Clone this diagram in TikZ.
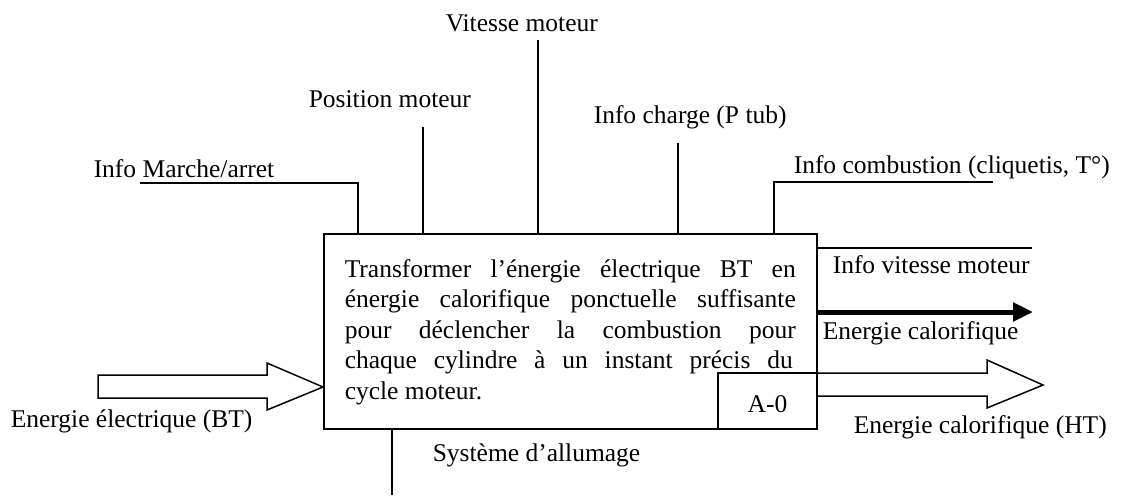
\documentclass[tikz,border=0pt]{standalone}
\usepackage{fontspec}
\setmainfont{Liberation Serif}
\usetikzlibrary{arrows.meta}
\begin{document}
\begin{tikzpicture}[x=1pt,y=-1pt,line width=1.5pt,
  lbl/.style={anchor=base west,inner sep=0pt,font=\fontsize{25.5}{29}\selectfont},
  boxstyle/.style={draw,inner sep=0pt,line width=1.5pt},
  hollow/.style={draw,line width=1.5pt,line join=miter,fill=white},
  thickarrow/.style={line width=5pt,-{Triangle[length=20pt,width=18pt]}}]
\fill[white] (0,0) rectangle (1126,495);
\useasboundingbox (0,0) rectangle (1126,495);

% main box
\node[boxstyle,minimum width=493pt,minimum height=195pt] (box) at (570.5,331.5) {};
\node[lbl] (t1) at (344,277) {\makebox[451pt][s]{Transformer l’énergie électrique BT en}};
\node[lbl] (t2) at (344,307.5) {\makebox[451pt][s]{énergie calorifique ponctuelle suffisante}};
\node[lbl] (t3) at (344,338) {\makebox[451pt][s]{pour déclencher la combustion pour}};
\node[lbl] (t4) at (344,368.5) {\makebox[448pt][s]{chaque cylindre à un instant précis du}};
\node[lbl] (t5) at (344,399) {cycle moteur.};

% A-0 box
\node[boxstyle,minimum width=99pt,minimum height=56pt] (a0) at (767.5,401) {};
\node[lbl,anchor=base] (a0t) at (767.5,412) {A-0};

% labels
\node[lbl] (vit) at (445,32) {Vitesse moteur};
\node[lbl] (pos) at (308,107) {Position moteur};
\node[lbl] (chg) at (593,123) {Info charge (P tub)};
\node[lbl] (mar) at (93,177) {Info Marche/arret};
\node[lbl] (cmb) at (793,173) {Info combustion (cliquetis, T°)};
\node[lbl] (ivm) at (832,273) {Info vitesse moteur};
\node[lbl] (ecal) at (822,339) {Energie calorifique};
\node[lbl] (ebt) at (10,427) {Energie électrique (BT)};
\node[lbl] (eht) at (853,433) {Energie calorifique (HT)};
\node[lbl] (sys) at (432,461) {Système d’allumage};

% control lines
\coordinate (m0) at (140,183);
\coordinate (mx) at (358,183);
\draw (m0) -- (mx) -- (mx |- box.north);
\coordinate (p0) at (423,127);
\draw (p0) -- (p0 |- box.north);
\coordinate (v0) at (538,40);
\draw (v0) -- (v0 |- box.north);
\coordinate (c0) at (678,143);
\draw (c0) -- (c0 |- box.north);
\coordinate (k0) at (993,182);
\coordinate (kx) at (774,182);
\draw (k0) -- (kx) -- (kx |- box.north);

% outputs
\coordinate (o1) at (1032,248);
\draw (o1 -| box.east) -- (o1);
\coordinate (o2) at (1033,312);
\coordinate (o2s) at (818,312);
\draw[thickarrow] (o2s) -- (o2);

% mechanism
\coordinate (s1) at (392,495);
\draw (s1 |- box.south) -- (s1);

% hollow arrows
\draw[hollow] (98,375) -- (267,375) -- (267,363) -- (323,387) -- (267,410) -- (267,398) -- (98,398) -- cycle;
\draw[hollow] (817,373) -- (987,373) -- (987,360) -- (1043,385) -- (987,408) -- (987,396) -- (817,396) -- cycle;
\end{tikzpicture}
\end{document}
